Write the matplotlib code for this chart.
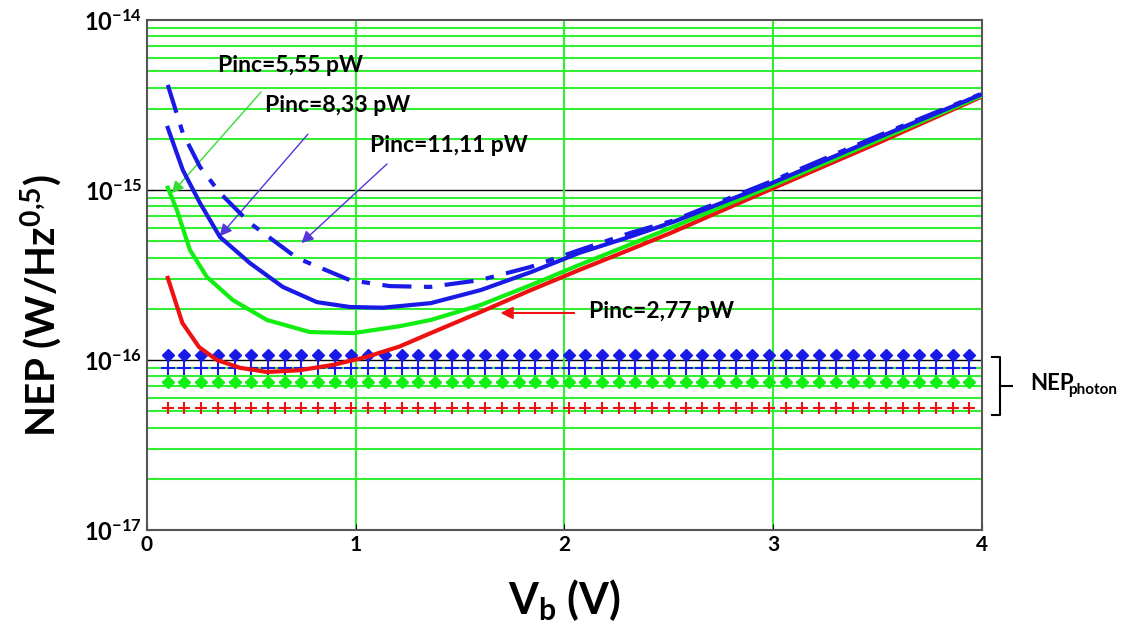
import numpy as np
import matplotlib.pyplot as plt
from matplotlib.lines import Line2D

plt.rcParams['font.family'] = ['Lato', 'DejaVu Sans']
plt.rcParams['font.weight'] = 'bold'
plt.rcParams['mathtext.fontset'] = 'custom'
plt.rcParams['mathtext.rm'] = 'Lato:bold'
plt.rcParams['mathtext.it'] = 'Lato:bold'
plt.rcParams['mathtext.bf'] = 'Lato:bold'

# NEP curves
vb_277 = [0.1, 0.17, 0.25, 0.335, 0.445, 0.575, 0.73, 0.89, 1.05, 1.21, 1.36, 1.6, 1.84,
          2.07, 2.31, 2.52, 2.98, 3.51, 3.99]
nep_277 = [3.04e-16, 1.65e-16, 1.19e-16, 1.0e-16, 0.9e-16, 0.85e-16, 0.87e-16, 0.935e-16,
           1.04e-16, 1.2e-16, 1.44e-16, 1.92e-16, 2.58e-16, 3.38e-16, 4.44e-16, 5.66e-16,
           1.0e-15, 1.91e-15, 3.5e-15]

vb_555 = [0.1, 0.144, 0.206, 0.287, 0.412, 0.575, 0.78, 0.99, 1.21, 1.36, 1.6, 1.84, 2.07,
          2.31, 2.52, 2.98, 3.51, 3.99]
nep_555 = [1.03e-15, 7.6e-16, 4.44e-16, 3.08e-16, 2.25e-16, 1.72e-16, 1.46e-16, 1.44e-16,
           1.58e-16, 1.72e-16, 2.11e-16, 2.76e-16, 3.62e-16, 4.75e-16, 6.06e-16, 1.04e-15,
           1.98e-15, 3.55e-15]

vb_833 = [0.1, 0.172, 0.254, 0.35, 0.493, 0.651, 0.814, 0.972, 1.13, 1.36, 1.6, 1.84, 2.07,
          2.31, 2.52, 2.98, 3.51, 3.99]
nep_833 = [2.32e-15, 1.31e-15, 8.39e-16, 5.29e-16, 3.72e-16, 2.69e-16, 2.19e-16, 2.05e-16,
           2.03e-16, 2.16e-16, 2.58e-16, 3.29e-16, 4.26e-16, 5.29e-16, 6.48e-16, 1.08e-15,
           2.05e-15, 3.62e-15]

vb_1111 = [0.1, 0.172, 0.254, 0.35, 0.493, 0.719, 0.972, 1.164, 1.356, 1.595, 1.835, 2.074,
           2.314, 2.52, 2.98, 3.51, 3.99]
nep_1111 = [4.15e-15, 2.16e-15, 1.37e-15, 9.6e-16, 6.4e-16, 3.98e-16, 2.95e-16, 2.72e-16,
            2.69e-16, 2.95e-16, 3.52e-16, 4.44e-16, 5.58e-16, 6.6e-16, 1.11e-15, 2.1e-15,
            3.65e-15]

# NEP photon levels
photon_levels = [5.2e-17, 7.4e-17, 0.9e-16, 1.07e-16]
photon_x = np.arange(0.1, 3.95, 0.08)

blue = '#1a1ae6'
green = '#11ee11'
red = '#ee1111'
grid_green = '#33ee33'

fig = plt.figure(figsize=(11.3, 6.32), dpi=100)
ax = fig.add_axes([0.130, 0.1614, 0.739, 0.807])
ax.set_yscale('log')
ax.set_xlim(0, 4)
ax.set_ylim(1e-17, 1e-14)

# grid
for dec in [1e-17, 1e-16, 1e-15]:
    for m in range(2, 10):
        ax.axhline(m * dec, color=grid_green, lw=1.5, zorder=1)
for dec in [1e-16, 1e-15]:
    ax.axhline(dec, color='black', lw=1, zorder=1)
for v in [1, 2, 3]:
    ax.axvline(v, color=grid_green, lw=1.5, zorder=1)

# photon markers
ax.plot(photon_x, [photon_levels[0]] * len(photon_x), ls='none', marker='+', ms=9, mew=1.5, color=red, zorder=3)
ax.plot(photon_x, [photon_levels[1]] * len(photon_x), ls='none', marker='D', ms=6.5, color=green, zorder=3)
ax.plot(photon_x, [photon_levels[1]] * len(photon_x), ls='none', marker='+', ms=9, mew=1.5, color=green, zorder=3)
ax.plot(photon_x, [photon_levels[2]] * len(photon_x), ls='none', marker='+', ms=10, mew=1.5, color=blue, zorder=3)
ax.plot(photon_x, [photon_levels[3]] * len(photon_x), ls='none', marker='D', ms=6, color=blue, zorder=3)

# curves
ax.plot(vb_277, nep_277, color=red, lw=3, zorder=4)
ax.plot(vb_555, nep_555, color=green, lw=3, zorder=4)
ax.plot(vb_833, nep_833, color=blue, lw=3, zorder=5)
ax.plot(vb_1111, nep_1111, color=blue, lw=3, dashes=(7, 3, 2, 3), zorder=5)

# annotations
fs = 16.5
ax.text(0.34, 5.4e-15, 'Pinc=5,55 pW', fontsize=fs, va='center', ha='left')
ax.text(0.565, 3.12e-15, 'Pinc=8,33 pW', fontsize=fs, va='center', ha='left')
ax.text(1.07, 1.82e-15, 'Pinc=11,11 pW', fontsize=fs, va='center', ha='left')
ax.text(2.12, 1.94e-16, 'Pinc=2,77 pW', fontsize=fs, va='center', ha='left')

ax.annotate('', xy=(0.11, 9.3e-16), xytext=(0.556, 3.88e-15),
            arrowprops=dict(arrowstyle='-|>', color='#33dd33', lw=1, mutation_scale=18))
ax.annotate('', xy=(0.34, 5.2e-16), xytext=(0.78, 2.19e-15),
            arrowprops=dict(arrowstyle='-|>', color='#5533dd', lw=1, mutation_scale=18))
ax.annotate('', xy=(0.73, 4.75e-16), xytext=(1.16, 1.46e-15),
            arrowprops=dict(arrowstyle='-|>', color='#5533dd', lw=1, mutation_scale=18))
ax.annotate('', xy=(1.68, 1.89e-16), xytext=(2.06, 1.89e-16),
            arrowprops=dict(arrowstyle='-|>', color=red, lw=1.5, mutation_scale=18))

# ticks
ax.set_xticks([0, 1, 2, 3, 4])
ax.set_xticklabels(['0', '1', '2', '3', '4'], fontsize=15, fontweight='bold')
ax.set_yticks([1e-17, 1e-16, 1e-15, 1e-14])
ax.set_yticklabels([r'$10^{-17}$', r'$10^{-16}$', r'$10^{-15}$', r'$10^{-14}$'], fontsize=17)
ax.yaxis.set_minor_locator(plt.NullLocator())
ax.tick_params(axis='both', length=4, direction='in')
for s in ax.spines.values():
    s.set_color('#555555')
    s.set_linewidth(1.5)

ax.set_xlabel(r'$V_b$ (V)', fontsize=31, fontweight='bold', labelpad=16)
ax.set_ylabel(r'NEP (W/Hz$^{0{,}5}$)', fontsize=29, fontweight='bold')
ax.yaxis.set_label_coords(-0.098, 0.44)

# NEP photon bracket
def fx(px):
    return px / 1130

def fy(py):
    return 1 - py / 632

fig.add_artist(Line2D([fx(992), fx(1000), fx(1000), fx(992)], [fy(357), fy(357), fy(415), fy(415)],
                      color='black', lw=1.5))
fig.add_artist(Line2D([fx(1000), fx(1012)], [fy(386), fy(386)], color='black', lw=1.5))
fig.text(fx(1030), fy(383), 'NEP', fontsize=16, fontweight='bold', va='center', ha='left')
fig.text(fx(1068), fy(390), 'photon', fontsize=11, fontweight='bold', va='center', ha='left')

fig.savefig('out.png', dpi=100)
